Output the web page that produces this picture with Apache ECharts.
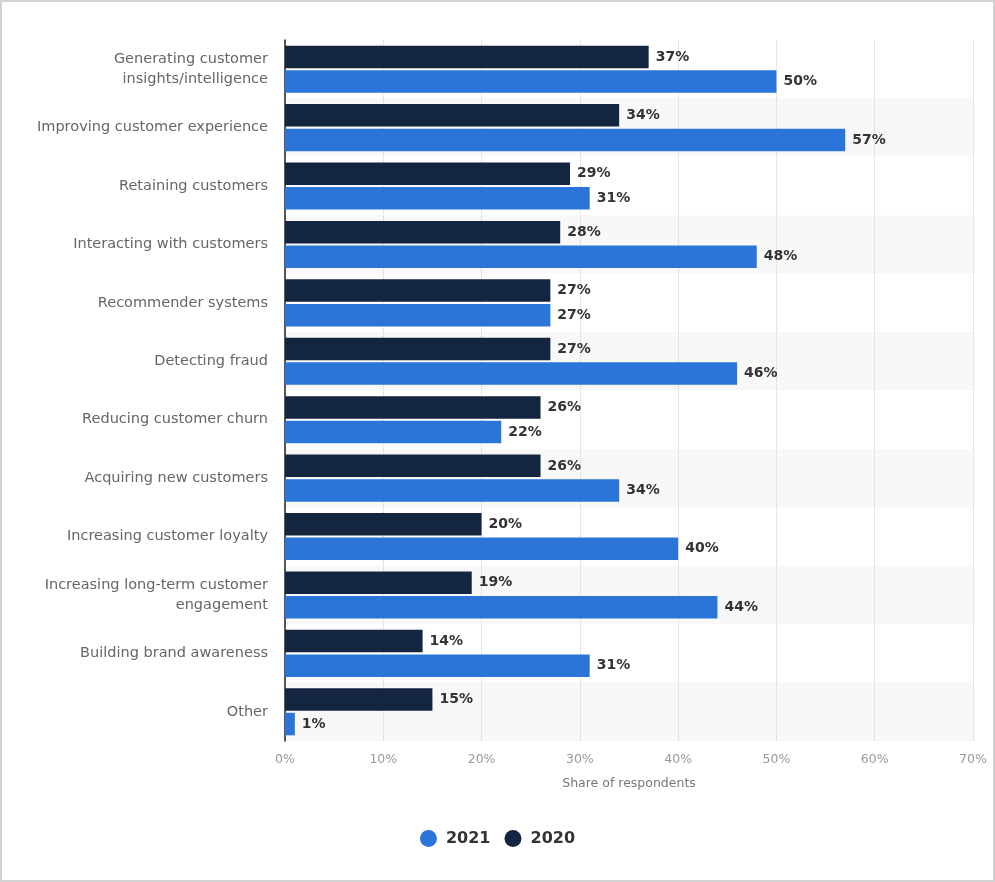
<!DOCTYPE html>
<html>
<head>
<meta charset="utf-8">
<script src="https://cdn.jsdelivr.net/npm/echarts@6/dist/echarts.min.js"></script>
<style>
  html, body { margin: 0; padding: 0; background: #fff; }
  #frame { position: absolute; left: 0; top: 0; width: 995px; height: 882px; box-sizing: border-box;
           border: 2px solid #d2d2d2; background: #fff; }
  #chart { width: 991px; height: 878px; }
</style>
</head>
<body>
<div id="frame"><div id="chart"></div></div>
<script>
var categories = [
  'Generating customer\ninsights/intelligence',
  'Improving customer experience',
  'Retaining customers',
  'Interacting with customers',
  'Recommender systems',
  'Detecting fraud',
  'Reducing customer churn',
  'Acquiring new customers',
  'Increasing customer loyalty',
  'Increasing long-term customer\nengagement',
  'Building brand awareness',
  'Other'
];
var values2020 = [37, 34, 29, 28, 27, 27, 26, 26, 20, 19, 14, 15];
var values2021 = [50, 57, 31, 48, 27, 46, 22, 34, 40, 44, 31, 1];
var xTicks = [0, 10, 20, 30, 40, 50, 60, 70];

var chart = echarts.init(document.getElementById('chart'));

var labelStyle = {
  show: true,
  position: 'right',
  distance: 7,
  formatter: '{c}%',
  color: '#333',
  fontWeight: 'bold',
  fontSize: 14,
  fontFamily: 'DejaVu Sans'
};

chart.setOption({
  animation: false,
  textStyle: { fontFamily: 'DejaVu Sans' },
  grid: { left: 283, right: 20, top: 38, bottom: 139, containLabel: false },
  legend: {
    data: ['2021', '2020'],
    bottom: 28,
    left: 'center',
    icon: 'circle',
    itemWidth: 17,
    itemHeight: 17,
    itemGap: 14,
    textStyle: { color: '#333', fontSize: 16, fontWeight: 'bold', padding: [0, 0, 0, 4] }
  },
  xAxis: {
    type: 'value',
    min: xTicks[0],
    max: xTicks[xTicks.length - 1],
    interval: 10,
    name: 'Share of respondents',
    nameLocation: 'middle',
    nameGap: 36,
    nameTextStyle: { color: '#777', fontSize: 12.5 },
    axisLine: { show: false },
    axisTick: { show: false },
    axisLabel: { color: '#999', fontSize: 12.5, margin: 12, formatter: '{value}%' },
    splitLine: { show: true, lineStyle: { color: '#cfcfcf', type: 'dotted', width: 1 } }
  },
  yAxis: {
    type: 'category',
    data: categories,
    inverse: true,
    axisLine: { show: true, lineStyle: { color: '#222', width: 1.5 } },
    axisTick: { show: false },
    axisLabel: { color: '#666', fontSize: 14.5, margin: 17, lineHeight: 20, align: 'right' },
    splitArea: { show: true, areaStyle: { color: ['#ffffff', '#f8f8f8'] } }
  },
  series: [
    {
      name: '2020',
      type: 'bar',
      data: values2020,
      barWidth: 22.5,
      barGap: '9%',
      itemStyle: { color: '#14263f' },
      label: labelStyle
    },
    {
      name: '2021',
      type: 'bar',
      data: values2021,
      barWidth: 22.5,
      barGap: '9%',
      itemStyle: { color: '#2b74d8' },
      label: labelStyle
    }
  ]
});

window.onresize = function () {
  chart.resize();
};
</script>
</body>
</html>
